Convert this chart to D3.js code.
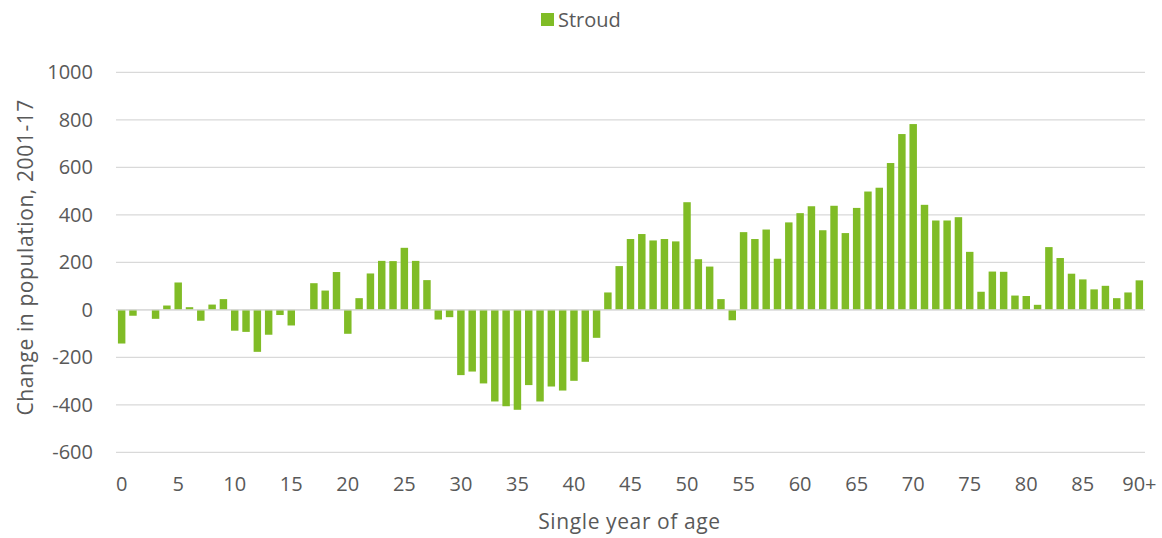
<!DOCTYPE html>
<html><head><meta charset="utf-8">
<script src="https://cdn.jsdelivr.net/npm/d3@7"></script>
<style>body{margin:0;background:#fff}svg{display:block}text{font-family:"Open Sans","Liberation Sans",sans-serif;fill:#595959}</style>
</head><body>
<svg id="c" width="1162" height="538"></svg>
<script>
const categories = [];
for (let i = 0; i < 90; i++) categories.push(String(i));
categories.push("90+");
const values = [
 -142,-25,0,-38,18,115,11,-46,22,45,
 -88,-93,-177,-105,-22,-66,0,112,81,159,
 -101,49,153,206,205,261,206,125,-41,-31,
 -275,-260,-310,-386,-406,-421,-317,-386,-323,-340,
 -299,-219,-118,73,184,298,319,292,298,288,
 453,213,182,45,-44,327,298,338,215,368,
 407,436,335,438,323,429,498,514,618,740,
 782,442,376,376,390,244,76,161,160,60,
 58,21,264,218,152,128,86,101,49,73,124
];
const seriesName = "Stroud";
const yTicks = [-600,-400,-200,0,200,400,600,800,1000];
const xTickLabels = ["0","5","10","15","20","25","30","35","40","45","50","55","60","65","70","75","80","85","90+"];

const svg = d3.select("#c");
const m = {l:116, r:1145, t:72.3, b:452.3};
const x = d3.scaleBand().domain(categories).range([m.l, m.r]).paddingInner(0.34).paddingOuter(0.17);
const y = d3.scaleLinear().domain([-600,1000]).range([m.b, m.t]);
const green = "#80bc26";

// gridlines
svg.append("g").selectAll("line").data(yTicks).join("line")
  .attr("x1", m.l).attr("x2", m.r)
  .attr("y1", d => y(d)).attr("y2", d => y(d))
  .attr("stroke", "#d9d9d9").attr("stroke-width", 1.3);

// y labels
svg.append("g").selectAll("text").data(yTicks).join("text")
  .attr("x", 93).attr("y", d => y(d)).attr("dy", "0.35em")
  .attr("text-anchor", "end").attr("font-size", 20).text(d => d);

// bars
svg.append("g").selectAll("rect").data(values).join("rect")
  .attr("x", (d,i) => x(categories[i]))
  .attr("width", x.bandwidth())
  .attr("y", d => y(Math.max(0,d)))
  .attr("height", d => Math.abs(y(d) - y(0)))
  .attr("fill", green);

// zero line on top
svg.append("line").attr("x1", m.l).attr("x2", m.r).attr("y1", y(0)).attr("y2", y(0))
  .attr("stroke", "#d9d9d9").attr("stroke-width", 1.3);

// x labels
const xa = d3.axisBottom(x).tickValues(xTickLabels).tickSize(0).tickPadding(0);
const gx = svg.append("g").attr("transform", `translate(0,${m.b})`).call(xa);
gx.select(".domain").remove();
gx.selectAll("text").attr("font-size", 20).attr("dy", "0").attr("y", 39)
  .style("font-family", '"Open Sans","Liberation Sans",sans-serif').attr("fill", "#595959");

// axis titles
svg.append("text").attr("x", (m.l + m.r)/2 - 1).attr("y", 529).attr("text-anchor", "middle")
  .attr("font-size", 21).attr("letter-spacing", 0.6).text("Single year of age");
svg.append("text").attr("transform", `translate(33,${(m.t+m.b)/2 - 5}) rotate(-90)`)
  .attr("text-anchor", "middle").attr("font-size", 21).attr("letter-spacing", 0.6).text("Change in population, 2001-17");

// legend
const lg = svg.append("g");
lg.append("rect").attr("x", 541).attr("y", 13).attr("width", 13).attr("height", 13).attr("fill", green);
lg.append("text").attr("x", 558).attr("y", 19.5).attr("dy", "0.35em").attr("font-size", 20).text(seriesName);
</script>
</body></html>
